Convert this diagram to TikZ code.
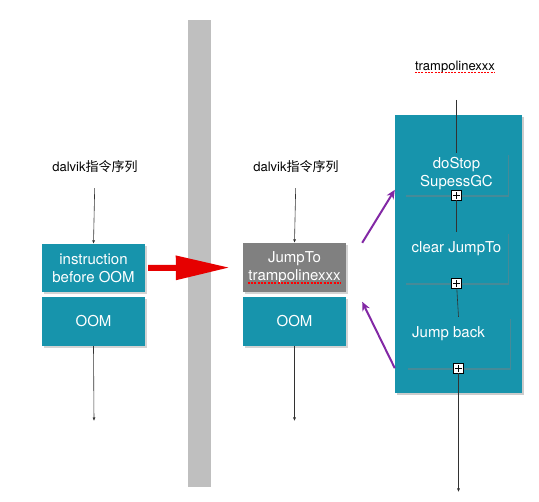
\documentclass[tikz,border=0pt]{standalone}
\usepackage{fontspec}
\setmainfont{TeX Gyre Heros}
\newfontfamily\cjk{Noto Sans CJK SC}
\usepackage{tikz}
\usetikzlibrary{arrows.meta}
\usetikzlibrary{shadows}
\definecolor{teal1}{RGB}{23,148,172}
\definecolor{boxgray}{RGB}{128,128,128}
\definecolor{bargray}{RGB}{191,191,191}
\definecolor{purp}{RGB}{130,40,165}
\definecolor{linegray}{RGB}{50,50,50}
\tikzstyle{instbox} = [rectangle, fill=teal1, text=white, align=center, inner sep=0pt, minimum width=103pt, minimum height=49pt, font=\fontsize{15}{18}\selectfont, drop shadow={shadow xshift=1.5pt,shadow yshift=-2pt,opacity=.35}]
\tikzstyle{jumpbox} = [instbox, fill=boxgray]
\tikzstyle{outer} = [rectangle, fill=teal1, inner sep=0pt, drop shadow={shadow xshift=2pt,shadow yshift=-2.5pt,opacity=.4}]
\tikzstyle{inner} = [rectangle, fill=teal1, text=white, align=center, inner sep=0pt, minimum width=103pt, font=\fontsize{15}{18}\selectfont, drop shadow={shadow xshift=1pt,shadow yshift=-2pt,opacity=.45}]
\tikzstyle{txt} = [text=white, inner sep=0pt, font=\fontsize{15}{18}\selectfont]
\tikzstyle{lbl} = [inner sep=0pt, font=\fontsize{13}{15}\selectfont]
\tikzstyle{plusbox} = [draw=black, fill=white, line width=0.6pt, minimum size=10pt, inner sep=0pt, path picture={\draw[line width=0.7pt] ([xshift=-3.5pt]path picture bounding box.center) -- ([xshift=3.5pt]path picture bounding box.center); \draw[line width=0.7pt] ([yshift=-3.5pt]path picture bounding box.center) -- ([yshift=3.5pt]path picture bounding box.center);}]
\tikzstyle{arrow} = [line width=0.6pt, draw=linegray, -{Latex[length=3.5pt,width=3pt]}]
\tikzstyle{link} = [line width=0.6pt, draw=linegray]
\tikzstyle{bigarrow} = [line width=6pt, draw={rgb,255:red,230;green,0;blue,0}, -{Triangle[length=54pt,width=23pt]}]
\tikzstyle{parrow} = [line width=2pt, draw=purp, -{Stealth[length=9pt,width=8pt]}]
\tikzstyle{squig} = [draw=red, line width=1.5pt, dash pattern=on 2pt off 1.3pt]

\begin{document}
\begin{tikzpicture}[x=1pt,y=-1pt,node distance=53.5pt]
\useasboundingbox (0,0) rectangle (539,502);

% separator
\fill [bargray] (188,20) rectangle (211,487);

% before
\node (lbl1) [lbl] at (95,167) {dalvik\cjk 指令序列};
\node (instr) [instbox, minimum height=48pt] at (93.5,268) {instruction\\before OOM};
\node (oom1) [instbox, below of=instr] {OOM};
\coordinate (end1) at (94,421);

% after
\node (lbl2) [lbl] at (296,167) {dalvik\cjk 指令序列};
\node (jump) [jumpbox] at (294.5,267.5) {JumpTo\\trampolinexxx};
\node (oom2) [instbox, below of=jump, yshift=-0.5pt] {OOM};
\coordinate (end2) at (294.5,421);
\draw [squig] ([xshift=5pt,yshift=9pt]jump.south west) -- ([xshift=-5pt,yshift=9pt]jump.south east);

% trampoline
\node (trlbl) [lbl] at (455,67) {trampolinexxx};
\draw [squig] ([yshift=-2pt]trlbl.base west) -- ([yshift=-2pt]trlbl.base east);
\coordinate (ttop) at (456.5,100);
\node (tramp) [outer, minimum width=127pt, minimum height=278pt] at (458.5,254) {};
\node (dostop) [inner, minimum height=42pt] at (456.5,174) {doStop\\SupessGC};
\node (clear) [inner, minimum height=51pt] at (456.5,257.5) {};
\node (clrtxt) [txt] at ([yshift=-17pt]clear.north) {clear JumpTo};
\node (jback) [inner, minimum height=51pt] at (458.5,342.5) {};
\node (jbtxt) [txt] at ([xshift=-10pt,yshift=8.5pt]jback.center) {Jump back};
\node (p1) [plusbox] at (dostop.south) {};
\node (p2) [plusbox] at (clear.south) {};
\node (p3) [plusbox] at (jback.south) {};
\coordinate (tend) at (458.5,492);

\draw [arrow] (lbl1.south) [shorten <=15pt] -- (instr.north);
\draw [arrow] (oom1.south) -- (end1);
\draw [arrow] (lbl2.south) [shorten <=15pt] -- (jump.north);
\draw [arrow] (oom2.south) -- (end2);
\draw [bigarrow, shorten <=3pt, shorten >=13pt] (instr.east) -- (jump.west);

\draw [link] (ttop) -- (dostop.north);
\draw [link] (p1) -- (clear.north);
\draw [link] (p2) -- (jback.north);
\draw [arrow] (p3) -- (tend);

\draw [parrow] ([xshift=16pt]jump.north east) -- ([yshift=-75pt]tramp.north west);
\draw [parrow] ([yshift=25pt]tramp.south west) -- ([xshift=16pt,yshift=-5pt]oom2.north east);

\end{tikzpicture}
\end{document}
